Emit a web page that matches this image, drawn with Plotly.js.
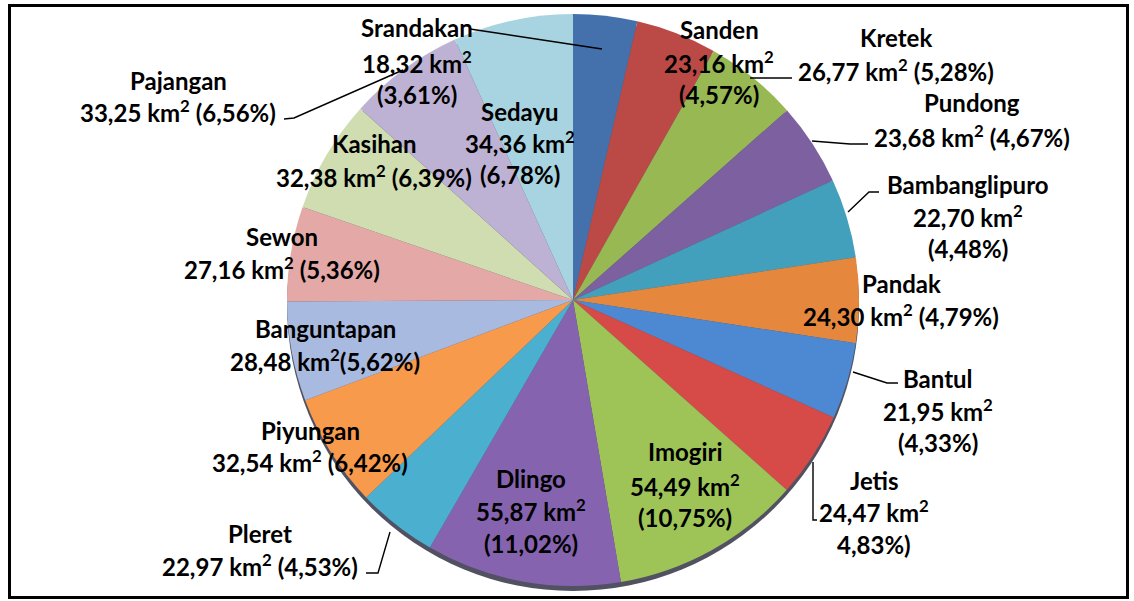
<!DOCTYPE html>
<html>
<head>
<meta charset="utf-8">
<script src="https://cdn.plot.ly/plotly-3.0.1.min.js"></script>
<style>
  html, body { margin: 0; padding: 0; background: #fff; }
  #chart { width: 1134px; height: 601px; }
</style>
</head>
<body>
<div id="chart"></div>
<script>
// ---- data ----
const districts = ['Srandakan','Sanden','Kretek','Pundong','Bambanglipuro','Pandak','Bantul','Jetis','Imogiri','Dlingo','Pleret','Piyungan','Banguntapan','Sewon','Kasihan','Pajangan','Sedayu'];
const areas = [18.32, 23.16, 26.77, 23.68, 22.70, 24.30, 21.95, 24.47, 54.49, 55.87, 22.97, 32.54, 28.48, 27.16, 32.38, 33.25, 34.36];
const percents = [3.61, 4.57, 5.28, 4.67, 4.48, 4.79, 4.33, 4.83, 10.75, 11.02, 4.53, 6.42, 5.62, 5.36, 6.39, 6.56, 6.78];
// label text templates ({n}=name, {a}=area, {p}=percent, | = new line)
const labelTemplates = [
  '{n}|{a} km²|({p}%)', '{n}|{a} km²|({p}%)', '{n}|{a} km² ({p}%)', '{n}|{a} km² ({p}%)',
  '{n}|{a} km²|({p}%)', '{n}|{a} km² ({p}%)', '{n}|{a} km²|({p}%)', '{n}|{a} km²|{p}%)',
  '{n}|{a} km²|({p}%)', '{n}|{a} km²|({p}%)', '{n}|{a} km² ({p}%)', '{n}|{a} km² ({p}%)',
  '{n}|{a} km²({p}%)', '{n}|{a} km² ({p}%)', '{n}|{a} km² ({p}%)', '{n}|{a} km² ({p}%)',
  '{n}|{a} km²|({p}%)'
];
const colors = ['#4471AC','#BB4A47','#97B853','#7D60A0','#43A0BD','#E5883D','#4C89D2','#D64B48','#9EC458','#8663AF','#4BAFD0','#F89A4C','#A8BADF','#E4A8A7','#CFDDB1','#BEB2D4','#A8D3E0'];

// ---- layout positions (pixels) ----
const W = 1134, H = 601;
const labelPos = [ // center x, center y of each line
  [417, [28, 62, 95]],
  [719, [30, 62, 95]],
  [896, [38, 70]],
  [972, [103, 136]],
  [968, [185, 216, 248]],
  [901, [283, 315]],
  [938, [378, 410, 442]],
  [874, [480, 511, 544]],
  [685, [451, 485, 517]],
  [531, [478, 510, 543]],
  [260, [533, 565]],
  [310, [430, 461]],
  [325, [328, 360]],
  [282, [236, 268]],
  [374, [143, 176]],
  [178, [80, 111]],
  [520, [111, 142, 175]]
];
const leaders = [
  [[470,29],[602,49]],
  [[284,119],[294,118],[403,70]],
  [[750,78],[792,78]],
  [[812,141],[850,144],[868,144]],
  [[848,212],[869,192],[879,192]],
  [[853,372],[887,383],[898,383]],
  [[813,462],[813,520],[817,520]],
  [[390,532],[378,573],[366,573]]
];

const px = x => x / W;
const py = y => 1 - y / H;
const fmt = v => v.toFixed(2).replace('.', ',');

const annotations = [];
districts.forEach((d, i) => {
  const txt = labelTemplates[i].replace('{n}', d).replace('{a}', fmt(areas[i])).replace('{p}', fmt(percents[i]));
  const lines = txt.split('|');
  lines.forEach((ln, j) => {
    annotations.push({
      xref: 'paper', yref: 'paper',
      x: px(labelPos[i][0]), y: py(labelPos[i][1][j]),
      xanchor: 'center', yanchor: 'middle',
      text: ln.replace('²', '<sup>2</sup>'),
      showarrow: false,
      font: {family: 'Lato, "Open Sans", sans-serif', size: 24, color: '#000', weight: 'bold'}
    });
  });
});

const shapes = [];
// 3D rim / shadow under the pie
const cx = 573, cy = 300, r = 286;
shapes.push({type: 'circle', xref: 'paper', yref: 'paper', layer: 'below',
  x0: px(cx - r), x1: px(cx + r), y0: py(cy + r + 5), y1: py(cy - r + 5),
  fillcolor: 'rgba(50,50,70,0.85)', line: {width: 0}});
leaders.forEach(pts => {
  const path = pts.map((p, k) => (k ? 'L' : 'M') + px(p[0]) + ',' + py(p[1])).join(' ');
  shapes.push({type: 'path', xref: 'paper', yref: 'paper', path: path, line: {color: '#000', width: 1.4}});
});
// frame
shapes.push({type: 'rect', xref: 'paper', yref: 'paper',
  x0: px(9.5), x1: px(1127.5), y0: py(597.5), y1: py(5.5), line: {color: '#000', width: 3}});

const trace = {
  type: 'pie',
  labels: districts,
  values: areas,
  sort: false,
  direction: 'clockwise',
  rotation: 0,
  textinfo: 'none',
  hoverinfo: 'label+value+percent',
  marker: {colors: colors, line: {width: 0}},
  domain: {x: [px(cx - r), px(cx + r)], y: [py(cy + r), py(cy - r)]},
  showlegend: false
};

Plotly.newPlot('chart', [trace], {
  width: W, height: H,
  margin: {l: 0, r: 0, t: 0, b: 0},
  paper_bgcolor: '#fff',
  showlegend: false,
  annotations: annotations,
  shapes: shapes
}, {displayModeBar: false, staticPlot: true});
</script>
</body>
</html>
